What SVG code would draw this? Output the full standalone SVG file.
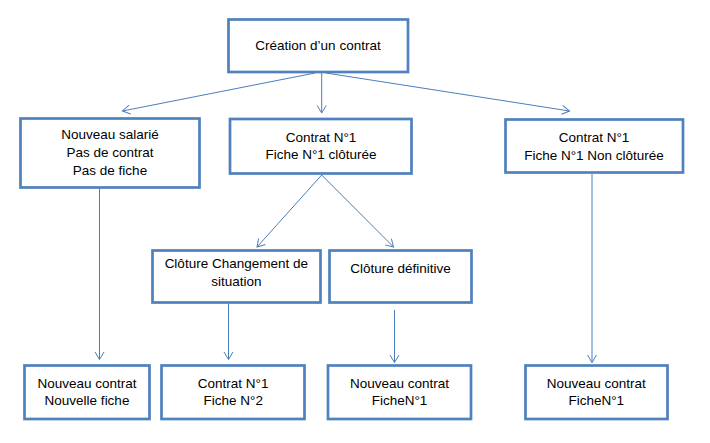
<svg xmlns="http://www.w3.org/2000/svg" width="710" height="443" viewBox="0 0 710 443">
<defs>
<style>
.box{fill:#fff;stroke:#4F81BD;stroke-width:2.7}
.t{font-family:"Liberation Sans",Arial,sans-serif;font-size:13.5px;fill:#000;text-anchor:middle}
.c{stroke:#4A7EBB;stroke-width:1;fill:none;marker-end:url(#a)}
</style>
<marker id="a" markerUnits="userSpaceOnUse" markerWidth="12" markerHeight="12" refX="0" refY="0" viewBox="-9 -6 10 12" orient="auto">
<path d="M-7.5,-4.5 L0,0 L-7.5,4.5" fill="none" stroke="#4A7EBB" stroke-width="1"/>
</marker>
</defs>
<rect width="710" height="443" fill="#fff"/>
<g id="connectors">
<line class="c" x1="321.7" y1="73" x2="321.7" y2="113"/>
<line class="c" x1="315" y1="73" x2="122.5" y2="111"/>
<line class="c" x1="326" y1="73" x2="569.5" y2="111"/>
<line class="c" x1="321.7" y1="175" x2="257" y2="247"/>
<line class="c" x1="321.7" y1="175" x2="393.5" y2="247"/>
<line class="c" x1="99.5" y1="188" x2="99.5" y2="359.5"/>
<line class="c" x1="228.5" y1="304" x2="228.5" y2="359.5"/>
<line class="c" x1="394.5" y1="310" x2="394.5" y2="362.5"/>
<line class="c" x1="592" y1="174" x2="592" y2="362.5"/>
</g>
<g id="creation">
<rect class="box" x="228.5" y="19.5" width="179.5" height="52.5"/>
<text class="t" x="318" y="50">Création d’un contrat</text>
</g>
<g id="nouveau-salarie">
<rect class="box" x="20.5" y="118.5" width="179" height="69"/>
<text class="t" x="110" y="139.3">Nouveau salarié</text>
<text class="t" x="110" y="157">Pas de contrat</text>
<text class="t" x="110" y="175">Pas de fiche</text>
</g>
<g id="contrat-cloturee">
<rect class="box" x="230" y="119" width="181.5" height="54.5"/>
<text class="t" x="321" y="141.7">Contrat N°1</text>
<text class="t" x="321" y="159.3">Fiche N°1 clôturée</text>
</g>
<g id="contrat-non-cloturee">
<rect class="box" x="505.5" y="119.5" width="177.5" height="53"/>
<text class="t" x="594" y="141.7">Contrat N°1</text>
<text class="t" x="594" y="160">Fiche N°1 Non clôturée</text>
</g>
<g id="cloture-changement">
<rect class="box" x="152.5" y="250.5" width="168" height="52"/>
<text class="t" x="236.3" y="268.3">Clôture Changement de</text>
<text class="t" x="236.3" y="286">situation</text>
</g>
<g id="cloture-definitive">
<rect class="box" x="329.5" y="250.5" width="142" height="52"/>
<text class="t" x="400.5" y="272.7">Clôture définitive</text>
</g>
<g id="nouveau-contrat-1">
<rect class="box" x="24.5" y="365.5" width="125" height="53.5"/>
<text class="t" x="87" y="387.7">Nouveau contrat</text>
<text class="t" x="87" y="405.3">Nouvelle fiche</text>
</g>
<g id="contrat-fiche2">
<rect class="box" x="161.5" y="365.5" width="143" height="53.5"/>
<text class="t" x="233.2" y="387.7">Contrat N°1</text>
<text class="t" x="233.2" y="405.3">Fiche N°2</text>
</g>
<g id="nouveau-contrat-2">
<rect class="box" x="328" y="365.5" width="143" height="53.5"/>
<text class="t" x="399.5" y="387.7">Nouveau contrat</text>
<text class="t" x="399.5" y="405.3">FicheN°1</text>
</g>
<g id="nouveau-contrat-3">
<rect class="box" x="525.5" y="365.5" width="142" height="53.5"/>
<text class="t" x="596.3" y="387.7">Nouveau contrat</text>
<text class="t" x="596.3" y="405.3">FicheN°1</text>
</g>
</svg>
